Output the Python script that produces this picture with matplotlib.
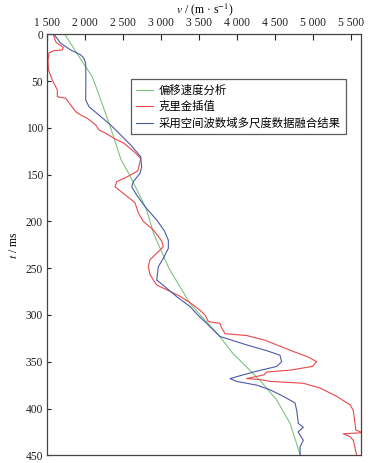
import numpy as np
import matplotlib
matplotlib.use("Agg")
import matplotlib.pyplot as plt
from matplotlib.ticker import FuncFormatter, MultipleLocator

plt.rcParams["font.family"] = ["Liberation Serif", "Noto Sans CJK SC"]
plt.rcParams["mathtext.fontset"] = "stix"

# 偏移速度分析 (migration velocity analysis)
t_mva = [0, 31, 45, 67, 99, 134, 150, 186, 213, 250, 288, 323, 340, 370,
         391, 416, 450]
v_mva = [1730, 1974, 2090, 2190, 2330, 2470, 2580, 2800, 2900, 3100, 3380,
         3770, 3930, 4300, 4520, 4695, 4830]

# 克里金插值 (kriging)
t_krig = [0, 8, 11, 14, 16.8, 17.5, 20, 27.5, 38, 49, 59.5, 66.7, 68.4, 75.6,
          82.7, 86.3, 89.8, 97, 102.3, 105.8, 111.2, 116.5, 125.5, 132.6, 140,
          146, 152, 157.6, 163, 170, 180, 191, 200, 209, 221, 227, 234, 241,
          248, 257, 263, 268, 273, 280, 288, 295, 300, 307, 309, 313, 320,
          322, 327, 332, 339, 345, 350, 355, 359, 361, 364, 368, 369, 371,
          373, 378, 387, 396, 402, 423, 425.8, 427, 430, 434, 450]
v_krig = [1580, 1610, 1654, 1711, 1697, 1588, 1522, 1509, 1515, 1566, 1632,
          1632, 1742, 1808, 1874, 1940, 2026, 2137, 2180, 2268, 2378, 2509,
          2641, 2729, 2710, 2690, 2560, 2413, 2391, 2500, 2654, 2698, 2763,
          2895, 3005, 3027, 2940, 2852, 2829, 2852, 2900, 2940, 3071, 3246,
          3400, 3510, 3575, 3619, 3773, 3790, 3839, 4124, 4365, 4519, 4737,
          4935, 5045, 4990, 4694, 4387, 4350, 4124, 4300, 4431, 4869, 5088,
          5308, 5484, 5527, 5560, 5650, 5395, 5483, 5527, 5571]

# 采用空间波数域多尺度数据融合结果 (multi-scale fusion)
t_fuse = [0, 9.6, 16.8, 22, 25.7, 31, 50, 70.2, 77.4, 86.3, 97, 107.6, 118.3,
          130.8, 141.5, 148.6, 157.6, 163, 171.8, 184.3, 198.5, 210, 220,
          228.8, 239.4, 248.4, 262.6, 269.8, 280.5, 291, 300, 309, 323, 332,
          338, 343, 350, 355, 361, 368, 371, 375, 380, 387, 394, 402, 416,
          420, 425, 434, 441, 450]
v_fuse = [1588, 1676, 1808, 1940, 1983, 2005, 2008, 2005, 2049, 2180, 2334,
          2466, 2597, 2729, 2742, 2720, 2632, 2611, 2676, 2786, 2940, 3040,
          3093, 3093, 3027, 2961, 2940, 3049, 3203, 3378, 3480, 3597, 3773,
          4124, 4380, 4562, 4584, 4519, 4211, 3904, 3992, 4255, 4431, 4606,
          4760, 4782, 4804, 4869, 4800, 4869, 4826, 4826]

labels = ["偏移速度分析", "克里金插值", "采用空间波数域多尺度数据融合结果"]

fig = plt.figure(figsize=(3.86, 4.63), dpi=100)
ax = fig.add_axes([0.1225, 0.0166, 0.8135, 0.9094])

ax.plot(v_mva, t_mva, color="#7cc47c", lw=0.8, label=labels[0])
ax.plot(v_krig, t_krig, color="#e8474a", lw=0.8, label=labels[1])
ax.plot(v_fuse, t_fuse, color="#4b5aa8", lw=0.8, label=labels[2])

ax.set_xlim(1500, 5632)
ax.set_ylim(450, 0)
ax.xaxis.set_major_locator(MultipleLocator(500))
ax.yaxis.set_major_locator(MultipleLocator(50))
ax.xaxis.set_major_formatter(FuncFormatter(
    lambda x, _: f"{int(x):,}".replace(",", " ")))
ax.xaxis.tick_top()
ax.xaxis.set_label_position("top")
ax.tick_params(axis="x", direction="in", length=4, width=0.8, pad=3.5,
               labelsize=8.3, colors="#222", bottom=False)
ax.tick_params(axis="y", direction="in", length=3, width=0.8, pad=3,
               labelsize=8.3, colors="#222", right=False)
for s in ax.spines.values():
    s.set_color("#444")
    s.set_linewidth(0.9)

ax.set_xlabel(r"$v$ / (m · s$^{-1}$)", fontsize=8.5, labelpad=3)
ax.set_ylabel(r"$t$ / ms", fontsize=8.5, labelpad=4)

leg = ax.legend(loc="upper left", bbox_to_anchor=(0.266, 0.893),
                fontsize=8.2, frameon=True, fancybox=False, handlelength=1.5,
                handletextpad=0.5, labelspacing=0.45, borderpad=0.45,
                borderaxespad=0)
leg.get_frame().set_edgecolor("#333")
leg.get_frame().set_linewidth(0.9)

plt.savefig("out.png", dpi=100)
